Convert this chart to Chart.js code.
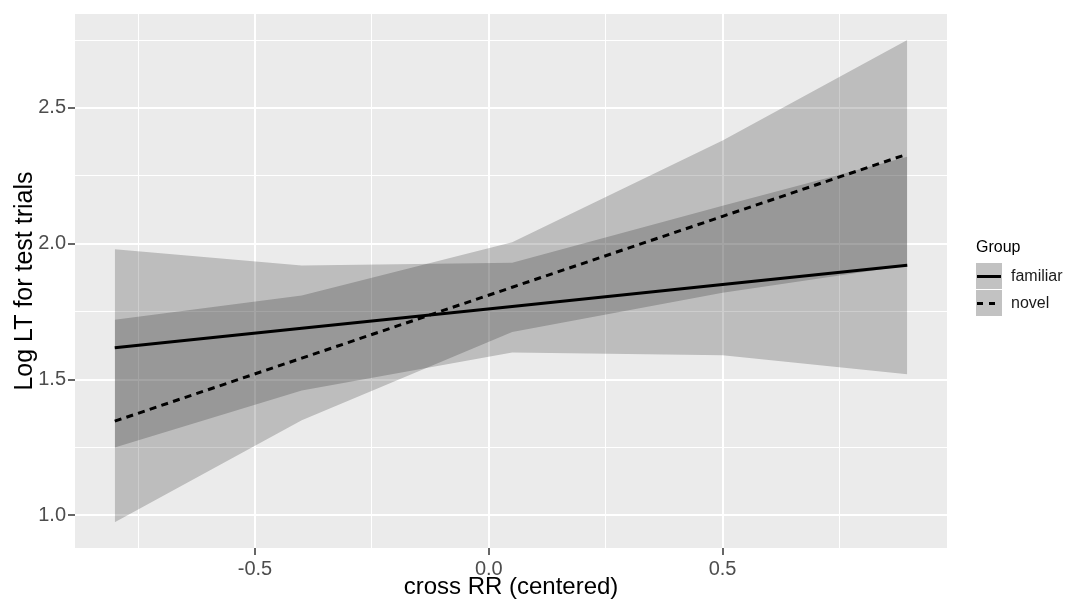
<!DOCTYPE html>
<html>
<head>
<meta charset="utf-8">
<script src="https://cdn.jsdelivr.net/npm/chart.js@4.4.1/dist/chart.umd.min.js"></script>
<style>
  html, body { margin: 0; padding: 0; background: #fff; }
  canvas { display: block; }
</style>
</head>
<body>
<canvas id="grafico" width="1065" height="603"></canvas>
<script>
// values (5 evaluation points per group)
const grupos = ['familiar', 'novel'];
const crossRR = [-0.80, -0.40, 0.05, 0.50, 0.895];

const familiarFit = [1.617, 1.689, 1.769, 1.850, 1.921];
const familiarLower = [1.25, 1.46, 1.60, 1.59, 1.52];
const familiarUpper = [1.98, 1.92, 1.93, 2.14, 2.32];

const novelFit = [1.347, 1.579, 1.840, 2.101, 2.330];
const novelLower = [0.975, 1.35, 1.675, 1.82, 1.92];
const novelUpper = [1.72, 1.81, 2.006, 2.38, 2.75];

const xTicks = [-0.75, -0.5, -0.25, 0, 0.25, 0.5, 0.75];
const xMajor = [-0.5, 0, 0.5];
const yTicks = [1.0, 1.25, 1.5, 1.75, 2.0, 2.25, 2.5, 2.75];
const yMajor = [1.0, 1.5, 2.0, 2.5];

const fuente = '"Liberation Sans", Arial, Helvetica, sans-serif';
const relleno = 'rgba(0, 0, 0, 0.195)';
const trazos = [[], [7, 5.3]];

function puntos(ys) {
  return crossRR.map((x, i) => ({ x: x, y: ys[i] }));
}

function esMayor(v, lista) {
  return lista.some(m => Math.abs(m - v) < 1e-9);
}

const fondoPanel = {
  id: 'fondoPanel',
  beforeDraw(chart) {
    const { ctx, chartArea: a } = chart;
    ctx.save();
    ctx.fillStyle = '#EBEBEB';
    ctx.fillRect(a.left, a.top, a.right - a.left, a.bottom - a.top);
    ctx.restore();
  }
};

// ggplot style legend on the right
const leyendaGrupo = {
  id: 'leyendaGrupo',
  afterDraw(chart) {
    const { ctx, chartArea: a } = chart;
    const x0 = a.right + 29;
    ctx.save();
    ctx.font = '16px ' + fuente;
    ctx.textBaseline = 'middle';
    ctx.fillStyle = '#000';
    ctx.fillText('Group', x0, 248);
    grupos.forEach((g, i) => {
      const top = 263 + i * 27;
      ctx.fillStyle = '#C2C2C2';
      ctx.fillRect(x0, top, 26, 26);
      ctx.strokeStyle = '#000';
      ctx.lineWidth = 3;
      ctx.setLineDash(i === 0 ? [] : [6, 6]);
      ctx.beginPath();
      ctx.moveTo(x0 + 1, top + 13.5);
      ctx.lineTo(x0 + 25, top + 13.5);
      ctx.stroke();
      ctx.setLineDash([]);
      ctx.fillStyle = '#1A1A1A';
      ctx.fillText(g, x0 + 35, top + 14);
    });
    ctx.restore();
  }
};

const banda = (ys, fill) => ({
  data: puntos(ys),
  borderWidth: 0,
  pointRadius: 0,
  backgroundColor: relleno,
  fill: fill
});

const recta = (ys, i) => ({
  data: puntos(ys),
  borderColor: '#000',
  borderWidth: 3,
  borderDash: trazos[i],
  pointRadius: 0,
  fill: false
});

const chart = new Chart(document.getElementById('grafico'), {
  type: 'line',
  data: {
    datasets: [
      banda(familiarLower, false),
      banda(familiarUpper, 0),
      banda(novelLower, false),
      banda(novelUpper, 2),
      recta(familiarFit, 0),
      recta(novelFit, 1)
    ]
  },
  options: {
    responsive: false,
    animation: false,
    layout: { padding: { left: 0, right: 118, top: 9, bottom: 0 } },
    plugins: {
      legend: { display: false },
      tooltip: { enabled: false },
      filler: { drawTime: 'beforeDatasetsDraw' }
    },
    scales: {
      x: {
        type: 'linear',
        min: -0.885,
        max: 0.98,
        afterBuildTicks: s => { s.ticks = xTicks.map(v => ({ value: v })); },
        afterFit: s => { s.height = 55; },
        border: { display: false },
        grid: {
          color: '#FFFFFF',
          lineWidth: c => (c.tick && esMayor(c.tick.value, xMajor) ? 2 : 1),
          drawTicks: true,
          tickLength: 7,
          tickWidth: 1.5,
          tickColor: c => (c.tick && esMayor(c.tick.value, xMajor) ? '#333333' : 'rgba(0,0,0,0)')
        },
        ticks: {
          autoSkip: false,
          maxRotation: 0,
          padding: 2,
          color: '#4D4D4D',
          font: { family: fuente, size: 20 },
          callback: v => (esMayor(v, xMajor) ? v.toFixed(1) : '')
        },
        title: {
          display: true,
          text: 'cross RR (centered)',
          color: '#000',
          font: { family: fuente, size: 24 },
          padding: { top: 0, bottom: 1 }
        }
      },
      y: {
        type: 'linear',
        min: 0.880,
        max: 2.846,
        afterBuildTicks: s => { s.ticks = yTicks.map(v => ({ value: v })); },
        afterFit: s => { s.width = 75; },
        border: { display: false },
        grid: {
          color: '#FFFFFF',
          lineWidth: c => (c.tick && esMayor(c.tick.value, yMajor) ? 2 : 1),
          drawTicks: true,
          tickLength: 7,
          tickWidth: 1.5,
          tickColor: c => (c.tick && esMayor(c.tick.value, yMajor) ? '#333333' : 'rgba(0,0,0,0)')
        },
        ticks: {
          autoSkip: false,
          padding: 2,
          color: '#4D4D4D',
          font: { family: fuente, size: 20 },
          callback: v => (esMayor(v, yMajor) ? v.toFixed(1) : '')
        },
        title: {
          display: true,
          text: 'Log LT for test trials',
          color: '#000',
          font: { family: fuente, size: 25 },
          padding: { top: 10, bottom: 0 }
        }
      }
    }
  },
  plugins: [fondoPanel, leyendaGrupo]
});
</script>
</body>
</html>
